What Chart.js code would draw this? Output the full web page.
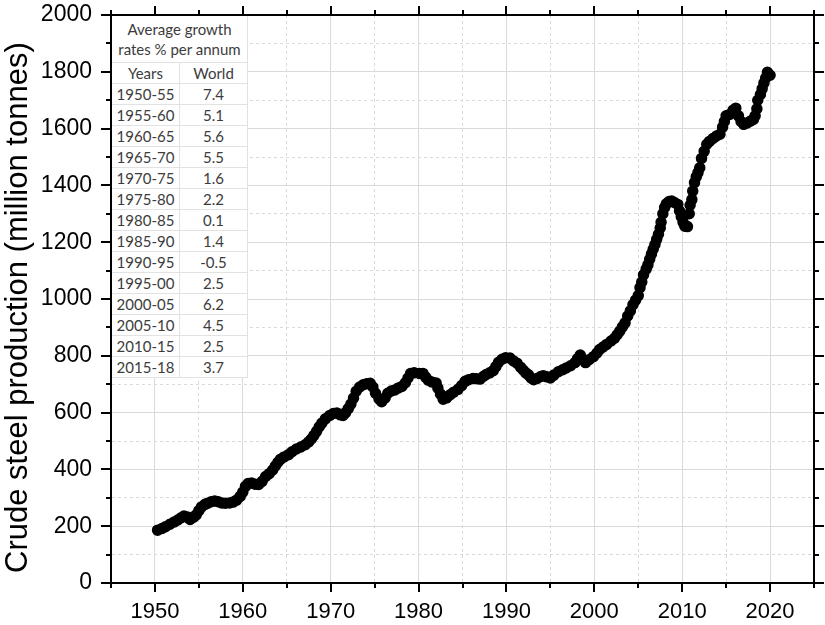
<!DOCTYPE html>
<html>
<head>
<meta charset="utf-8">
<script src="https://cdn.jsdelivr.net/npm/chart.js@4.4.1/dist/chart.umd.min.js"></script>
<style>
  html, body { margin: 0; padding: 0; background: #ffffff; }
  #wrap { position: relative; width: 825px; height: 625px; }
  #growth { position: absolute; border-collapse: collapse; background: #ffffff;
            font-family: Lato, "Open Sans", sans-serif; font-size: 15px; color: #3c3c3c; }
  #growth td { border: 1px solid #e2e2e2; text-align: center; padding: 0; height: 20px; line-height: 20px; width: 67px; }
  #growth td.head { line-height: 20px; height: 46px; border-top: none; border-left: none; }
  #growth td.first { border-left: none; }
</style>
</head>
<body>
<div id="wrap">
  <canvas id="c" width="825" height="625"></canvas>
  <table id="growth"></table>
</div>
<script>
// ---- data ----
const years = [
  1950.3, 1950.8, 1951.2, 1951.7, 1952.2, 1952.6, 1953.0, 1953.3, 1953.7, 1954.0,
  1954.4, 1954.7, 1955.0, 1955.3, 1955.7, 1956.0, 1956.4, 1956.8, 1957.2, 1957.6,
  1958.0, 1958.5, 1958.9, 1959.3, 1959.7, 1960.0, 1960.3, 1960.6, 1961.0, 1961.4,
  1961.8, 1962.2, 1962.6, 1963.0, 1963.4, 1963.7, 1964.0, 1964.3, 1964.7, 1965.2,
  1965.6, 1966.1, 1966.6, 1967.1, 1967.5, 1967.8, 1968.1, 1968.4, 1968.7, 1969.0,
  1969.4, 1969.9, 1970.3, 1970.7, 1971.1, 1971.4, 1971.7, 1972.0, 1972.3, 1972.6,
  1972.9, 1973.3, 1973.7, 1974.1, 1974.5, 1974.8, 1975.1, 1975.5, 1975.8, 1976.2,
  1976.5, 1976.9, 1977.3, 1977.7, 1978.1, 1978.5, 1978.8, 1979.1, 1979.5, 1980.1,
  1980.5, 1980.8, 1981.1, 1981.5, 1982.0, 1982.2, 1982.5, 1982.8, 1983.2, 1983.6,
  1984.0, 1984.5, 1984.9, 1985.3, 1985.7, 1986.2, 1986.6, 1987.0, 1987.4, 1987.7,
  1988.1, 1988.5, 1988.8, 1989.1, 1989.5, 1989.9, 1990.4, 1990.8, 1991.2, 1991.6,
  1991.9, 1992.2, 1992.5, 1992.8, 1993.1, 1993.5, 1993.9, 1994.2, 1994.6, 1995.0,
  1995.4, 1995.9, 1996.4, 1996.8, 1997.3, 1997.8, 1998.1, 1998.4, 1998.7, 1999.0,
  1999.4, 1999.9, 2000.3, 2000.6, 2001.0, 2001.4, 2001.9, 2002.3, 2002.6, 2002.9,
  2003.2, 2003.5, 2003.8, 2004.1, 2004.4, 2004.7, 2005.0, 2005.2, 2005.4, 2005.6,
  2005.9, 2006.1, 2006.3, 2006.5, 2006.7, 2006.9, 2007.1, 2007.3, 2007.5, 2007.6,
  2007.8, 2008.0, 2008.2, 2008.5, 2008.8, 2009.1, 2009.5, 2009.7, 2009.9, 2010.1,
  2010.3, 2010.6, 2010.8, 2010.9, 2011.1, 2011.2, 2011.4, 2011.6, 2011.8, 2012.0,
  2012.2, 2012.5, 2012.8, 2013.1, 2013.5, 2013.9, 2014.3, 2014.6, 2014.8, 2015.0,
  2015.4, 2015.8, 2016.1, 2016.4, 2016.7, 2017.0, 2017.4, 2017.8, 2018.1, 2018.3,
  2018.5, 2018.6, 2018.9, 2019.1, 2019.3, 2019.5, 2019.7, 2020.0
];
const production = [
  186, 192, 198, 207, 215, 222, 230, 236, 232, 224,
  232, 240, 255, 268, 277, 281, 286, 289, 286, 282,
  281, 282, 285, 292, 305, 320, 340, 350, 352, 348,
  347, 358, 375, 385, 398, 412, 425, 436, 444, 452,
  462, 472, 479, 487, 497, 507, 520, 534, 550, 563,
  578, 590, 597, 599, 592, 590, 600, 614, 630, 651,
  675, 690, 698, 702, 703, 690, 668, 648, 638, 652,
  668, 676, 680, 687, 692, 705, 722, 738, 740, 738,
  738, 725, 714, 708, 704, 686, 665, 647, 652, 663,
  672, 682, 695, 710, 716, 720, 719, 718, 728, 734,
  740, 748, 762, 777, 788, 793, 792, 782, 774, 760,
  750, 740, 733, 722, 716, 720, 727, 730, 726, 722,
  732, 744, 751, 757, 765, 776, 790, 803, 788, 776,
  786, 797, 810, 822, 831, 840, 852, 862, 874, 887,
  902, 916, 940, 958, 980, 996, 1012, 1040, 1060, 1085,
  1105, 1120, 1140, 1158, 1175, 1192, 1210, 1228, 1250, 1270,
  1300, 1322, 1335, 1343, 1345, 1340, 1333, 1310, 1290, 1270,
  1256, 1255, 1300, 1330, 1350, 1380, 1410, 1430, 1445, 1462,
  1495, 1520, 1545, 1555, 1565, 1574, 1580, 1605, 1625, 1645,
  1650, 1665, 1672, 1645, 1625, 1615, 1620, 1627, 1632, 1645,
  1670, 1700, 1720, 1740, 1760, 1778, 1798, 1788
];
const periods = ["1950-55","1955-60","1960-65","1965-70","1970-75","1975-80","1980-85",
                 "1985-90","1990-95","1995-00","2000-05","2005-10","2010-15","2015-18"];
const rates = ["7.4","5.1","5.6","5.5","1.6","2.2","0.1","1.4","-0.5","2.5","6.2","4.5","2.5","3.7"];
const tableTitle = ["Average growth", "rates % per annum"];
const tableHeader = ["Years", "World"];
const yTitle = "Crude steel production (million tonnes)";

// ---- build table ----
const tbl = document.getElementById('growth');
let html = '<tr><td class="head" colspan="2">' + tableTitle.join('<br>') + '</td></tr>';
html += '<tr><td class="first">' + tableHeader[0] + '</td><td>' + tableHeader[1] + '</td></tr>';
periods.forEach((p, i) => { html += '<tr><td class="first">' + p + '</td><td>' + rates[i] + '</td></tr>'; });
tbl.innerHTML = html;

const FONT = "'Liberation Sans', Arial, sans-serif";
const gridGray = '#dadada';

const frame = {
  id: 'frame',
  afterLayout(chart) {
    const a = chart.chartArea;
    tbl.style.left = (a.left + 1) + 'px';
    tbl.style.top = (a.top + 1) + 'px';
  },
  afterDraw(chart) {
    const {ctx, chartArea: a, scales: {x, y}} = chart;
    ctx.save();
    ctx.strokeStyle = '#000';
    ctx.lineWidth = 2;
    ctx.beginPath();
    for (let v = x.min; v <= x.max; v += 5) {
      const px = Math.round(x.getPixelForValue(v));
      const len = v % 10 === 0 ? 9 : 5;
      ctx.moveTo(px, a.bottom); ctx.lineTo(px, a.bottom + len);
      ctx.moveTo(px, a.top); ctx.lineTo(px, a.top - len);
    }
    for (let v = y.min; v <= y.max; v += 100) {
      const py = Math.round(y.getPixelForValue(v));
      const len = v % 200 === 0 ? 10 : 5;
      ctx.moveTo(a.left, py); ctx.lineTo(a.left - len, py);
      ctx.moveTo(a.right, py); ctx.lineTo(a.right + len, py);
    }
    ctx.stroke();
    ctx.strokeRect(a.left, a.top, a.right - a.left, a.bottom - a.top);
    ctx.restore();
  }
};

new Chart(document.getElementById('c'), {
  type: 'scatter',
  data: {
    datasets: [{
      data: years.map((yr, i) => ({x: yr, y: production[i]})),
      backgroundColor: '#000',
      borderColor: '#000',
      borderWidth: 1.5,
      pointRadius: 5,
      pointHoverRadius: 5
    }]
  },
  options: {
    responsive: false,
    animation: false,
    events: [],
    layout: { padding: { top: 15, right: 11, left: 0, bottom: 0 } },
    plugins: { legend: { display: false }, tooltip: { enabled: false } },
    scales: {
      x: {
        type: 'linear', min: 1945, max: 2025,
        afterFit: s => { s.height = 42; s.paddingLeft = 0; s.paddingRight = 0; },
        ticks: {
          stepSize: 5, autoSkip: false, maxRotation: 0, padding: 16,
          color: '#000', font: { family: FONT, size: 22 },
          callback: v => (v % 10 === 0 && v >= 1950 && v <= 2020) ? String(v) : ''
        },
        grid: { color: gridGray, lineWidth: 1, drawTicks: false },
        border: { display: true, color: '#000', width: 2,
                  dash: c => (c.tick && c.tick.value % 10 !== 0) ? [3, 3] : [] }
      },
      y: {
        min: 0, max: 2000,
        afterFit: s => { s.width = 111; s.paddingTop = 0; s.paddingBottom = 0; },
        ticks: {
          stepSize: 100, autoSkip: false, padding: 19,
          color: '#000', font: { family: FONT, size: 23 },
          callback: v => (v % 200 === 0) ? String(v) : ''
        },
        grid: { color: gridGray, lineWidth: 1, drawTicks: false },
        border: { display: true, color: '#000', width: 2,
                  dash: c => (c.tick && c.tick.value % 200 !== 0) ? [3, 3] : [] },
        title: { display: true, text: yTitle + '\u00a0\u00a0', color: '#000',
                 font: { family: FONT, size: 31 }, padding: { top: 0, bottom: 0 } }
      }
    }
  },
  plugins: [frame]
});
</script>
</body>
</html>
